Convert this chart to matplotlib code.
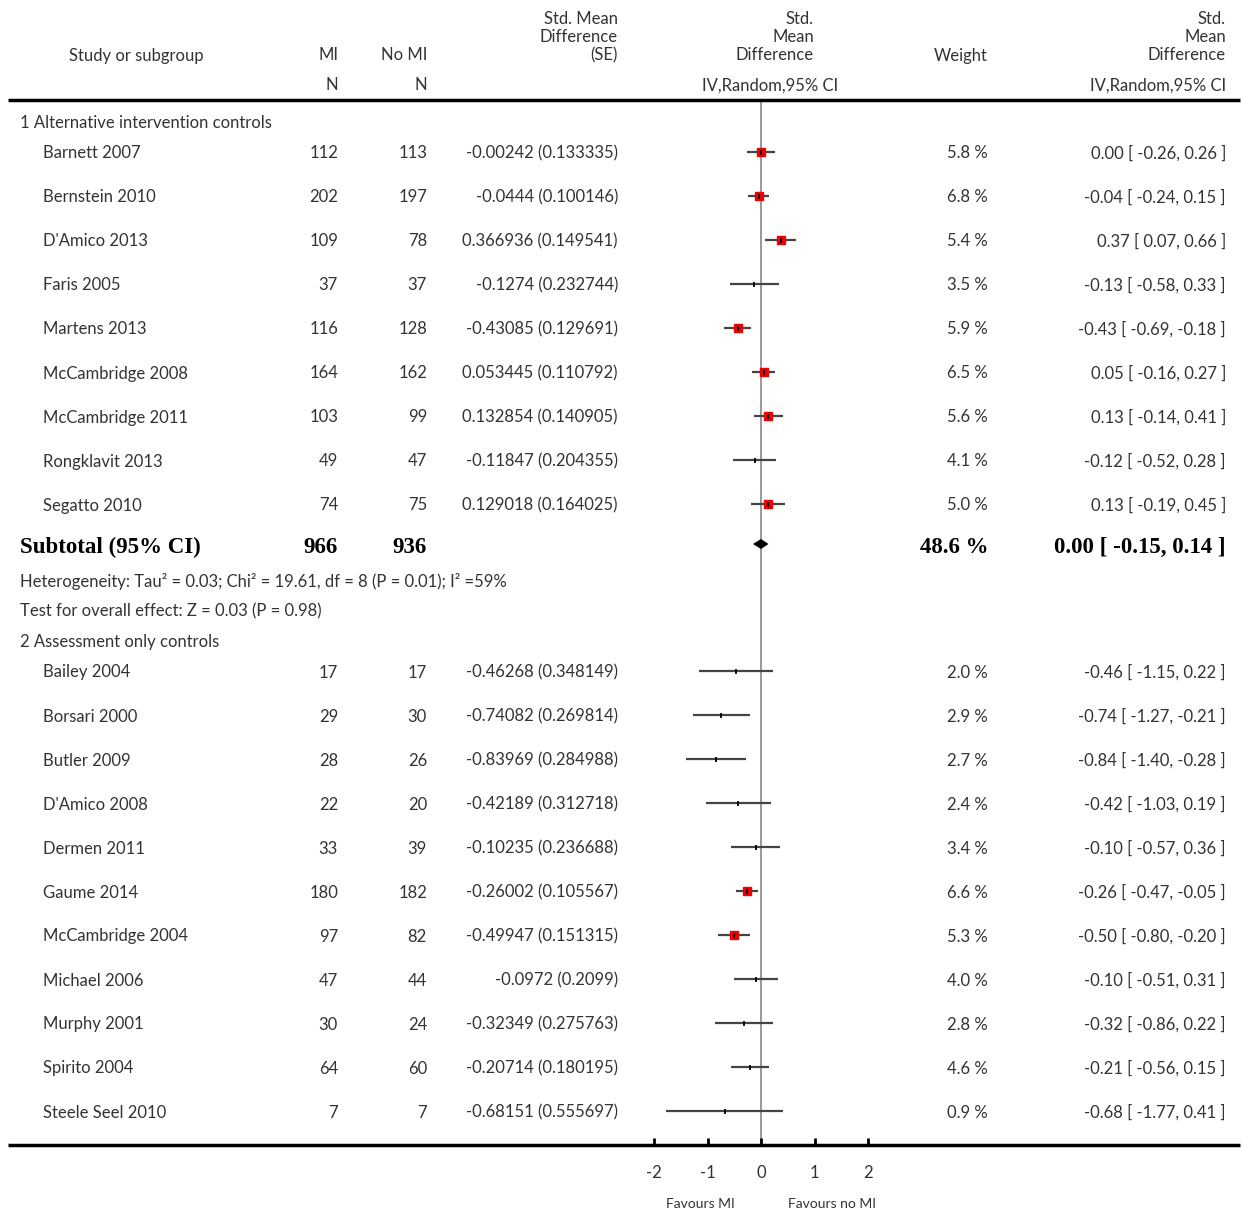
import matplotlib
matplotlib.use("Agg")
import matplotlib.pyplot as plt
import matplotlib.transforms as mtransforms

# ---- data ----
group1_names = ["Barnett 2007", "Bernstein 2010", "D'Amico 2013", "Faris 2005", "Martens 2013",
                "McCambridge 2008", "McCambridge 2011", "Rongklavit 2013", "Segatto 2010"]
group1_mi = [112, 202, 109, 37, 116, 164, 103, 49, 74]
group1_nomi = [113, 197, 78, 37, 128, 162, 99, 47, 75]
group1_smd = ["-0.00242", "-0.0444", "0.366936", "-0.1274", "-0.43085", "0.053445", "0.132854", "-0.11847", "0.129018"]
group1_se = ["0.133335", "0.100146", "0.149541", "0.232744", "0.129691", "0.110792", "0.140905", "0.204355", "0.164025"]
group1_weight = [5.8, 6.8, 5.4, 3.5, 5.9, 6.5, 5.6, 4.1, 5.0]
group1_est = [0.00, -0.04, 0.37, -0.13, -0.43, 0.05, 0.13, -0.12, 0.13]
group1_lo = [-0.26, -0.24, 0.07, -0.58, -0.69, -0.16, -0.14, -0.52, -0.19]
group1_hi = [0.26, 0.15, 0.66, 0.33, -0.18, 0.27, 0.41, 0.28, 0.45]

group2_names = ["Bailey 2004", "Borsari 2000", "Butler 2009", "D'Amico 2008", "Dermen 2011", "Gaume 2014",
                "McCambridge 2004", "Michael 2006", "Murphy 2001", "Spirito 2004", "Steele Seel 2010"]
group2_mi = [17, 29, 28, 22, 33, 180, 97, 47, 30, 64, 7]
group2_nomi = [17, 30, 26, 20, 39, 182, 82, 44, 24, 60, 7]
group2_smd = ["-0.46268", "-0.74082", "-0.83969", "-0.42189", "-0.10235", "-0.26002", "-0.49947",
              "-0.0972", "-0.32349", "-0.20714", "-0.68151"]
group2_se = ["0.348149", "0.269814", "0.284988", "0.312718", "0.236688", "0.105567", "0.151315",
             "0.2099", "0.275763", "0.180195", "0.555697"]
group2_weight = [2.0, 2.9, 2.7, 2.4, 3.4, 6.6, 5.3, 4.0, 2.8, 4.6, 0.9]
group2_est = [-0.46, -0.74, -0.84, -0.42, -0.10, -0.26, -0.50, -0.10, -0.32, -0.21, -0.68]
group2_lo = [-1.15, -1.27, -1.40, -1.03, -0.57, -0.47, -0.80, -0.51, -0.86, -0.56, -1.77]
group2_hi = [0.22, -0.21, -0.28, 0.19, 0.36, -0.05, -0.20, 0.31, 0.22, 0.15, 0.41]

group1_label = "1 Alternative intervention controls"
group2_label = "2 Assessment only controls"
subtotal1 = {"mi": 966, "nomi": 936, "weight": 48.6, "est": 0.00, "lo": -0.15, "hi": 0.14}
heterogeneity1 = "Heterogeneity: Tau\u00b2 = 0.03; Chi\u00b2 = 19.61, df = 8 (P = 0.01); I\u00b2 =59%"
overall1 = "Test for overall effect: Z = 0.03 (P = 0.98)"
axis_ticks = [-2, -1, 0, 1, 2]
favours_left = "Favours MI"
favours_right = "Favours no MI"

# ---- layout (pixels) ----
W, H = 1242, 1212
x0_px, unit_px = 761, 53.5
font = "Lato"
fs = 12
tcol = "#333333"
dy = 1.5  # nudge text down a little

fig = plt.figure(figsize=(W / 100, H / 100), dpi=100)
ax = fig.add_axes([0, 0, 1, 1])
ax.set_xlim(-x0_px / unit_px, (W - x0_px) / unit_px)
ax.set_ylim(H, 0)
ax.axis("off")

# x in figure pixels, y in data (pixel rows)
tr = mtransforms.blended_transform_factory(
    mtransforms.Affine2D().scale(1.0 / W, 1.0) + fig.transFigure, ax.transData)


def txt(x, y, s, ha="left", bold=False, size=fs):
    if bold:
        ax.text(x, y + dy, s, transform=tr, ha=ha, va="center", fontsize=16.5,
                family="Liberation Serif", fontweight="bold", color="black")
    else:
        ax.text(x, y + dy, s, transform=tr, ha=ha, va="center", fontsize=size,
                family=font, color=tcol)


# header
txt(136, 54, "Study or subgroup", ha="center")
txt(338, 54, "MI", ha="right")
txt(427, 54, "No MI", ha="right")
txt(338, 84, "N", ha="right")
txt(427, 84, "N", ha="right")
for y, s in zip([17, 36, 54], ["Std. Mean", "Difference", "(SE)"]):
    txt(618, y, s, ha="right")
for y, s in zip([17, 36, 54], ["Std.", "Mean", "Difference"]):
    txt(814, y, s, ha="right")
    txt(1226, y, s, ha="right")
txt(770, 84, "IV,Random,95% CI", ha="center")
txt(988, 54, "Weight", ha="right")
txt(1226, 84, "IV,Random,95% CI", ha="right")

# heavy rules
ax.plot([8, 1240], [100, 100], transform=tr, color="black", lw=2.5, solid_capstyle="butt")
ax.plot([8, 1240], [1145, 1145], transform=tr, color="black", lw=2.5, solid_capstyle="butt")

# zero line
ax.vlines(0, 100, 1145, color="#888888", lw=1.2, zorder=1)


def draw_rows(names, mi, nomi, smd, se, weight, est, lo, hi, y_start, step=44):
    for i in range(len(names)):
        y = y_start + i * step
        txt(43, y, names[i])
        txt(338, y, str(mi[i]), ha="right")
        txt(427, y, str(nomi[i]), ha="right")
        txt(618, y, "%s (%s)" % (smd[i], se[i]), ha="right")
        txt(988, y, "%.1f %%" % weight[i], ha="right")
        txt(1226, y, "%.2f [ %.2f, %.2f ]" % (est[i], lo[i], hi[i]), ha="right")
        ax.hlines(y, lo[i], hi[i], color="#444444", lw=1.6, zorder=2)
        point = float(smd[i])
        if weight[i] >= 5.0:
            ax.plot(point, y, marker="s", ms=5.6, color="#ee0000", mec="#ee0000", zorder=3)
        ax.vlines(point, y - 2.5, y + 2.5, color="black", lw=1.3, zorder=4)


txt(20, 121, group1_label)
draw_rows(group1_names, group1_mi, group1_nomi, group1_smd, group1_se, group1_weight,
          group1_est, group1_lo, group1_hi, 152)

# subtotal
ys = 546
txt(20, ys, "Subtotal (95% CI)", bold=True)
txt(338, ys, str(subtotal1["mi"]), ha="right", bold=True)
txt(427, ys, str(subtotal1["nomi"]), ha="right", bold=True)
txt(988, ys, "%.1f %%" % subtotal1["weight"], ha="right", bold=True)
txt(1226, ys, "%.2f [ %.2f, %.2f ]" % (subtotal1["est"], subtotal1["lo"], subtotal1["hi"]),
    ha="right", bold=True)
ax.fill([subtotal1["lo"], subtotal1["est"], subtotal1["hi"], subtotal1["est"]],
        [ys - 2, ys - 7, ys - 2, ys + 3], color="black", zorder=5, lw=0)
txt(20, 580, heterogeneity1)
txt(20, 610, overall1)
txt(20, 640, group2_label)

draw_rows(group2_names, group2_mi, group2_nomi, group2_smd, group2_se, group2_weight,
          group2_est, group2_lo, group2_hi, 671)

# x axis ticks
for t in axis_ticks:
    ax.vlines(t, 1138, 1145, color="black", lw=2, zorder=3)
    ax.text(t, 1173, "%d" % t, ha="center", va="center", fontsize=fs, family=font, color=tcol)
ax.text(-1.14, 1204, favours_left, ha="center", va="center", fontsize=10, family=font, color=tcol)
ax.text(1.33, 1204, favours_right, ha="center", va="center", fontsize=10, family=font, color=tcol)

fig.savefig("out.png", dpi=100)
